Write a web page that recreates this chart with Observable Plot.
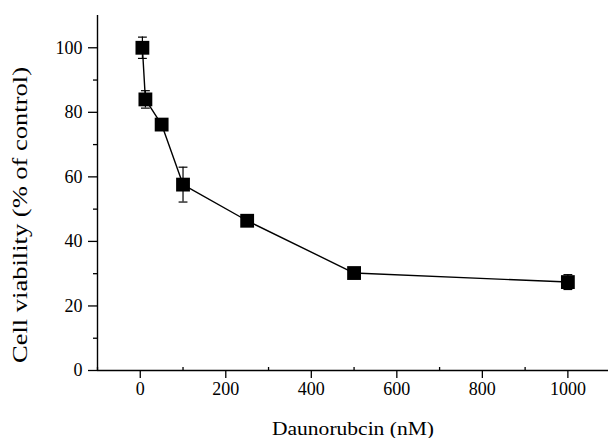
<!DOCTYPE html>
<html>
<head>
<meta charset="utf-8">
<script src="https://cdn.jsdelivr.net/npm/d3@7"></script>
<script src="https://cdn.jsdelivr.net/npm/@observablehq/plot@0.6"></script>
<style>
  html, body { margin: 0; padding: 0; background: #fff; }
  #chart svg { display: block; }
</style>
</head>
<body>
<div id="chart"></div>
<script>
// Data
const dose = [5, 12, 50, 100, 250, 500, 1000];          // Daunorubcin (nM)
const viability = [100, 84, 76.2, 57.6, 46.4, 30.2, 27.4]; // % of control
const errorSD = [3.3, 2.7, 0.8, 5.4, 0.8, 0.8, 2.3];

const xMajorTicks = [0, 200, 400, 600, 800, 1000];
const xMinorTicks = [-100, 100, 300, 500, 700, 900];
const yMajorTicks = [0, 20, 40, 60, 80, 100];
const yMinorTicks = [10, 30, 50, 70, 90];

const xTitle = "Daunorubcin (nM)";
const yTitle = "Cell viability (% of control)";

const data = dose.map((d, i) => ({dose: d, v: viability[i], lo: viability[i] - errorSD[i], hi: viability[i] + errorSD[i]}));

const capSymbol = {
  draw(context, size) {
    const w = Math.sqrt(size) / 2;
    context.moveTo(-w, 0);
    context.lineTo(w, 0);
  }
};

const FONT = "Liberation Serif, Times New Roman, serif";
const W = 608, H = 438;
const mT = 15, mB = 68, mL = 97, mR = 0;
const plotH = H - mT - mB;

const chart = Plot.plot({
  width: W,
  height: H,
  marginTop: mT,
  marginBottom: mB,
  marginLeft: mL,
  marginRight: mR,
  style: {fontFamily: FONT, fontSize: "18px", color: "#000", background: "#fff"},
  x: {domain: [-100, 1095]},
  y: {domain: [0, 110]},
  marks: [
    // axes
    Plot.axisX(xMajorTicks, {tickSize: 8, tickPadding: 4, tickFormat: d => String(d), fontSize: 18, label: null, strokeWidth: 1.3}),
    Plot.tickX(xMinorTicks, {x: d => d, insetTop: plotH - 3, stroke: "#000", strokeWidth: 1.3}),
    Plot.axisY(yMajorTicks, {tickSize: 9, tickPadding: 6, tickFormat: d => String(d), fontSize: 18, label: null, strokeWidth: 1.3}),
    Plot.axisY(yMinorTicks, {tickSize: 4, tickFormat: () => "", label: null, strokeWidth: 1.3}),
    Plot.ruleY([0], {stroke: "#000", strokeWidth: 1.4}),
    Plot.ruleX([-100], {stroke: "#000", strokeWidth: 1.4}),
    // titles
    Plot.text([xTitle], {frameAnchor: "bottom", dy: 58, lineAnchor: "middle", fontSize: 19, fill: "#000", className: "xtitle"}),
    Plot.text([yTitle], {frameAnchor: "left", dx: -77, dy: 22, rotate: -90, lineAnchor: "middle", textAnchor: "middle", fontSize: 20, fill: "#000", className: "ytitle"}),
    // error bars
    Plot.ruleX(data, {x: "dose", y1: "lo", y2: "hi", stroke: "#000", strokeWidth: 1.2}),
    Plot.dot(data, {x: "dose", y: "hi", symbol: capSymbol, r: 5, stroke: "#000", fill: "none", strokeWidth: 1.2}),
    Plot.dot(data, {x: "dose", y: "lo", symbol: capSymbol, r: 5, stroke: "#000", fill: "none", strokeWidth: 1.2}),
    // line + squares
    Plot.line(data, {x: "dose", y: "v", stroke: "#000", strokeWidth: 1.4}),
    Plot.dot(data, {x: "dose", y: "v", symbol: "square", r: 7.8, fill: "#000", stroke: "none"})
  ]
});

// force serif font on every text
chart.querySelectorAll("text").forEach(t => {
  t.style.fontFamily = FONT;
  t.style.fontVariant = "normal";
});

// stretch titles to the lengths seen in the reference
const xt = chart.querySelector(".xtitle text");
if (xt) { xt.setAttribute("textLength", 162); xt.setAttribute("lengthAdjust", "spacingAndGlyphs"); }
const yt = chart.querySelector(".ytitle text");
if (yt) { yt.setAttribute("textLength", 296); yt.setAttribute("lengthAdjust", "spacingAndGlyphs"); }

document.getElementById("chart").appendChild(chart);
</script>
</body>
</html>
